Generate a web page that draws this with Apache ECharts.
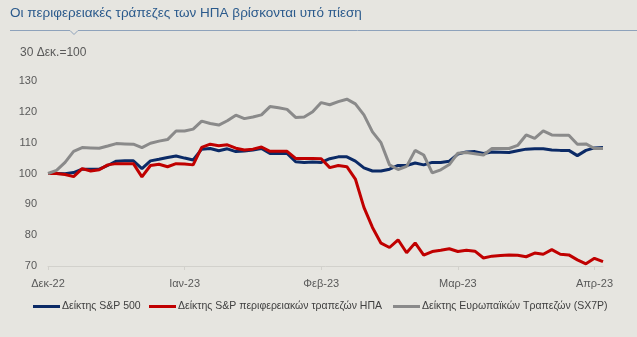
<!DOCTYPE html>
<html>
<head>
<meta charset="utf-8">
<script src="https://cdn.jsdelivr.net/npm/echarts@6/dist/echarts.min.js"></script>
<style>
html,body{margin:0;padding:0;background:#e6e5e0;}
#c{width:637px;height:337px;}
</style>
</head>
<body>
<div id="c"></div>
<script>
const titleText = 'Οι περιφερειακές τράπεζες των ΗΠΑ βρίσκονται υπό πίεση';
const unitText = '30 Δεκ.=100';
const seriesNames = ['Δείκτης S&P 500', 'Δείκτης S&P περιφερειακών τραπεζών ΗΠΑ', 'Δείκτης Ευρωπαϊκών Τραπεζών (SX7P)'];
// tick labels at category indices
const tickIndex = [0, 16, 32, 48, 64];
const tickLabels = ['Δεκ-22', 'Ιαν-23', 'Φεβ-23', 'Μαρ-23', 'Απρ-23'];

const sp500 = [100,100,99.9,100.3,101.4,101.4,101.4,102.6,104,104.1,104.1,101.6,104.1,104.6,105.2,105.7,
  105,104.4,107.9,108.1,107.4,108,107.1,107.3,107.6,108.1,106.5,106.5,106.5,103.8,103.6,103.7,
  103.6,104.8,105.4,105.4,104,101.8,100.8,100.8,101.4,102.6,102.6,103.4,102.8,103.6,103.6,104,
  106.3,107,107.1,106.5,107,106.9,106.8,107.4,107.9,108,108,107.6,107.5,107.5,105.8,107.5,108.3,108.4];
const regional = [100,100,99.7,99,101.6,100.8,101.2,102.8,103.2,103.2,103.2,98.9,102.6,103,102.2,103.2,
  103.1,102.8,108.5,109.5,109,109.3,108.2,107.6,107.9,108.6,107.2,107.2,107.2,104.9,104.9,104.9,
  104.8,101.9,102.6,102.2,98.2,89,82.5,77.4,76,78.5,74.3,77.5,73.5,74.7,75.1,75.6,
  74.7,75.1,74.8,72.6,73.2,73.4,73.6,73.5,73,74.2,73.8,75.3,73.8,73.6,72,70.7,72.5,71.4];
const sx7p = [100,101,103.6,107.2,108.4,108.3,108.2,108.9,109.7,109.6,109.5,108.4,109.8,110.5,111,113.8,
  113.8,114.4,117,116.2,115.7,117.1,118.9,117.8,118.3,119,121.7,121.3,120.8,118.2,118.3,120,
  123,122.3,123.3,124.1,122.6,119,113.5,110,102.8,101.3,102.3,107.5,106,100.2,101.2,102.9,
  106.6,106.8,106.4,106,108.1,108.1,108.1,109.1,112.5,111.4,113.8,112.5,112.4,112.4,109.5,109.6,108.1,108.1];

const categories = sp500.map((_, i) => String(i));
const isTick = (i) => tickIndex.indexOf(i) >= 0;
const legendLefts = [28, 144, 388];

const chart = echarts.init(document.getElementById('c'), null, {renderer: 'canvas'});
chart.setOption({
  backgroundColor: '#e6e5e0',
  animation: false,
  textStyle: {fontFamily: 'Liberation Sans, Arial, sans-serif'},
  graphic: [
    {type: 'text', left: 10, top: 6, style: {text: titleText, fill: '#2b5a8c', font: '13.5px "Liberation Sans", Arial, sans-serif'}},
    {type: 'polyline', shape: {points: [[10, 30.5], [70, 30.5], [74, 34.5], [78, 30.5], [637, 30.5]]}, style: {stroke: '#8ea2bb', lineWidth: 1, fill: null}},
    {type: 'text', left: 20, top: 47, style: {text: unitText, fill: '#595959', font: '12px "Liberation Sans", Arial, sans-serif'}}
  ],
  grid: {left: 48, right: 34, top: 81, bottom: 71, containLabel: false},
  legend: seriesNames.map((n, k) => ({
    left: legendLefts[k], top: 296, icon: 'rect', itemWidth: 27, itemHeight: 3,
    textStyle: {color: '#404040', fontSize: 10.5, padding: [0, 0, 0, -3]},
    data: [n]
  })),
  xAxis: {
    type: 'category', boundaryGap: false, data: categories,
    axisLine: {lineStyle: {color: '#d2d1cc', width: 1}},
    axisTick: {show: true, interval: (i) => isTick(i), length: 4, lineStyle: {color: '#d2d1cc'}},
    axisLabel: {interval: (i) => isTick(i), color: '#595959', fontSize: 11, margin: 12,
      formatter: (v, i) => { const k = tickIndex.indexOf(i); return k >= 0 ? tickLabels[k] : ''; }},
    splitLine: {show: false}
  },
  yAxis: {
    type: 'value', min: 70, max: 130, interval: 10,
    axisLine: {show: false}, axisTick: {show: false}, splitLine: {show: false},
    axisLabel: {color: '#595959', fontSize: 11, margin: 11}
  },
  series: [
    {name: seriesNames[0], type: 'line', data: sp500, showSymbol: false, symbol: 'none', color: '#0b2a66', lineStyle: {width: 3}},
    {name: seriesNames[1], type: 'line', data: regional, showSymbol: false, symbol: 'none', color: '#c00000', lineStyle: {width: 3}},
    {name: seriesNames[2], type: 'line', data: sx7p, showSymbol: false, symbol: 'none', color: '#8a8a8a', lineStyle: {width: 3}}
  ]
});
</script>
</body>
</html>
